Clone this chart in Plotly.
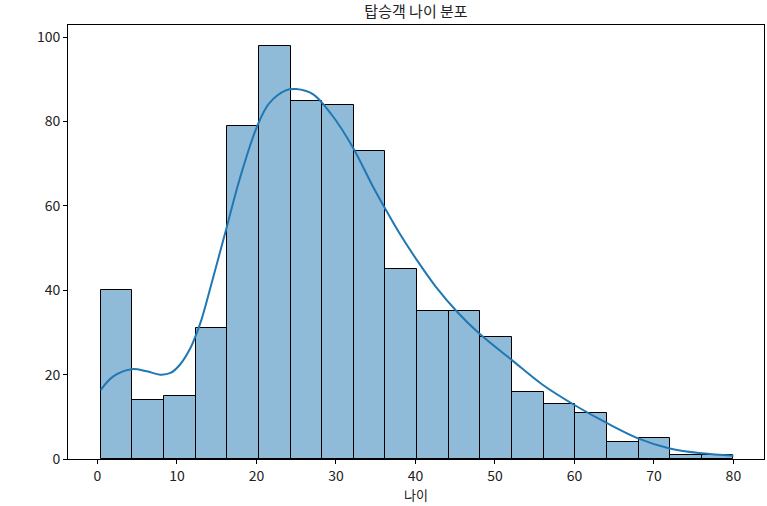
import numpy as np
import plotly.graph_objects as go

# histogram of passenger ages (20 bins between min and max age)
age_min = 0.42
age_max = 80.0
counts = [40, 14, 15, 31, 79, 98, 85, 84, 73, 45, 35, 35, 29, 16, 13, 11, 4, 5, 1, 1]

# kde curve (in count units)
kde_x = [0.42, 2.0, 4.3, 6.2, 7.9, 9.2, 10.4, 11.7, 12.5, 13.1, 14.5, 16.2, 17.9,
         20.05, 21.6, 23.7, 25.0, 27.1, 29.4, 32.1, 34.6, 36.1, 38.0, 40.1, 42.5, 45.3,
         48.0, 52.1, 56.0, 60.0, 64.0, 68.0, 72.0, 76.0, 80.0]
kde_y = [16.4, 19.6, 21.3, 20.8, 20.0, 20.4, 22.4, 26.3, 29.9, 33.1, 42.6, 54.5, 66.4,
         78.7, 84.3, 87.4, 87.7, 86.5, 81.8, 74.0, 64.8, 59.7, 53.5, 47.4, 41.0, 34.8,
         29.8, 23.5, 17.6, 12.8, 8.6, 4.9, 2.5, 1.35, 0.8]

title = "탑승객 나이 분포"
x_label = "나이"

edges = np.linspace(age_min, age_max, len(counts) + 1)
width = edges[1] - edges[0]

font = "Noto Sans CJK KR, Noto Sans, sans-serif"
txt = "#222222"

fig = go.Figure()
fig.add_trace(go.Bar(
    x=edges[:-1], y=counts, width=width, offset=0,
    marker=dict(color="rgba(31,119,180,0.5)", line=dict(color="black", width=1)),
    showlegend=False,
))
fig.add_trace(go.Scatter(
    x=kde_x, y=kde_y, mode="lines", line=dict(color="#1f77b4", width=2, shape="spline", smoothing=1),
    showlegend=False,
))

axis_style = dict(
    showline=True, linecolor="black", linewidth=1, mirror=True,
    ticks="outside", ticklen=4, tickcolor="black", showgrid=False, zeroline=False,
    tickfont=dict(size=14, color=txt), automargin=False,
)
fig.update_xaxes(range=[-3.7, 83.85], dtick=10, **axis_style,
                 title=dict(text=x_label, font=dict(size=13, color=txt), standoff=4))
fig.update_yaxes(range=[0, max(counts) * 1.05], dtick=20, **axis_style)

fig.update_layout(
    width=767, height=506,
    margin=dict(l=68, r=3, t=25, b=47),
    plot_bgcolor="white", paper_bgcolor="white",
    font=dict(family=font, color=txt),
    bargap=0,
    title=dict(text=title, x=0.5, xref="paper", y=0.976, yref="container", yanchor="middle",
               font=dict(size=15, color=txt), automargin=False),
)

# drop the page's default body margin so the figure sits at the window corner
fig.write_html("out.html", config={"displayModeBar": False},
               post_script="document.body.style.margin='0';")
